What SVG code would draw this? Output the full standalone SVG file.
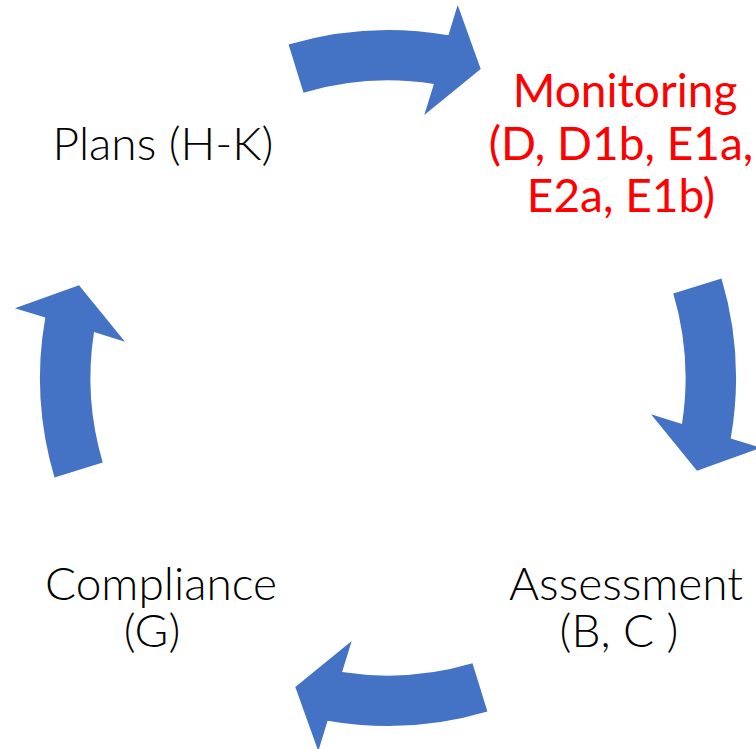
<svg xmlns="http://www.w3.org/2000/svg" width="756" height="749" viewBox="0 0 756 749">
<defs>
<style>
.arrow{fill:#4472C4;stroke:none}
.lbl{font-family:Lato,"Open Sans","Liberation Sans",sans-serif;font-weight:300;font-size:46px;fill:#000;text-anchor:middle}
.red{font-family:Lato,"Liberation Sans",sans-serif;font-weight:400;font-size:46px;fill:#FF0000;text-anchor:middle}
</style>
<path id="arc" class="arrow" d="M288.6,44.5 A348,348 0 0 1 448.4,35.3 L457.7,4.9 L480.7,69 L424.3,115 L433.9,84 A297.6,297.6 0 0 0 303.5,92.7 Z"/>
</defs>
<rect width="756" height="749" fill="#fff"/>
<g id="connectors">
<use href="#arc"/>
<use href="#arc" transform="rotate(90 388 378)"/>
<use href="#arc" transform="rotate(180 388 378)"/>
<use href="#arc" transform="rotate(270 388 378)"/>
</g>
<g id="plans"><text class="lbl" x="163" y="160">Plans (H-K)</text></g>
<g id="monitoring"><text class="red"><tspan x="625" y="107">Monitoring</tspan><tspan x="621" y="160">(D, D1b, E1a,</tspan><tspan x="621" y="212">E2a, E1b)</tspan></text></g>
<g id="assessment"><text class="lbl"><tspan x="626" y="600">Assessment</tspan><tspan x="619" y="647">(B, C )</tspan></text></g>
<g id="compliance"><text class="lbl"><tspan x="161" y="600">Compliance</tspan><tspan x="152" y="647">(G)</tspan></text></g>
</svg>
